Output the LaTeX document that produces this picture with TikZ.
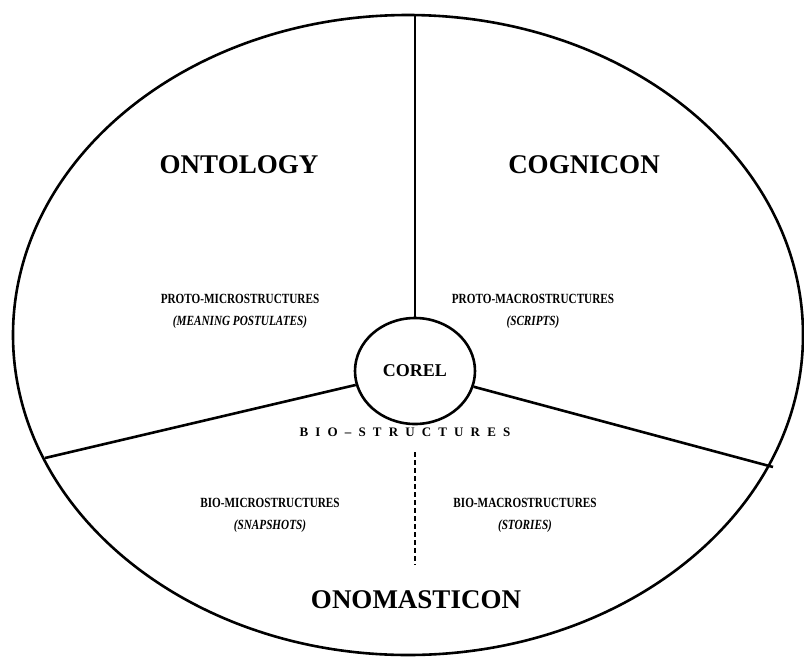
\documentclass[tikz,border=0pt]{standalone}
\usepackage{fontspec}
\setmainfont{Liberation Serif}
\newfontfamily\narrowfont[FakeStretch=0.8]{Liberation Serif}
\usetikzlibrary{shapes.geometric}
\begin{document}
\begin{tikzpicture}[x=1pt,y=-1pt,line width=2.6pt,
  big/.style={font=\fontsize{27}{30}\selectfont\bfseries},
  small/.style={font=\narrowfont\fontsize{14}{22}\selectfont\bfseries,align=center}]
\useasboundingbox(0,0)rectangle(804,657);
\draw(408,335)ellipse[x radius=395,y radius=320];
\node[draw,ellipse,minimum width=120,minimum height=106,inner sep=0,font=\fontsize{18}{20}\selectfont\bfseries](corel)at(415,371){COREL};
\coordinate(top)at(415,15);
\coordinate(lend)at(45,458);
\coordinate(rend)at(773,467);
\draw(corel.north)--(top);
\draw(corel)--(lend);
\draw(corel)--(rend);
\node[big](ontology)at(239,165){ONTOLOGY};
\node[big](cognicon)at(584,165){COGNICON};
\node[big](onomasticon)at(416,600){ONOMASTICON};
\node[small](protomicro)at(240,311){PROTO-MICROSTRUCTURES\\\textit{(MEANING POSTULATES)}};
\node[small](protomacro)at(533,311){PROTO-MACROSTRUCTURES\\\textit{(SCRIPTS)}};
\node[small,font=\fontsize{13}{15}\selectfont\bfseries\addfontfeature{LetterSpace=55}](bio)at(405,432){BIO–STRUCTURES};
\node[small](biomicro)at(270,515){BIO-MICROSTRUCTURES\\\textit{(SNAPSHOTS)}};
\node[small](biomacro)at(525,515){BIO-MACROSTRUCTURES\\\textit{(STORIES)}};
\coordinate(dtop)at(415,452);
\coordinate(dbot)at(415,565);
\draw[dash pattern=on 5pt off 3pt](dtop)--(dbot);
\end{tikzpicture}
\end{document}
